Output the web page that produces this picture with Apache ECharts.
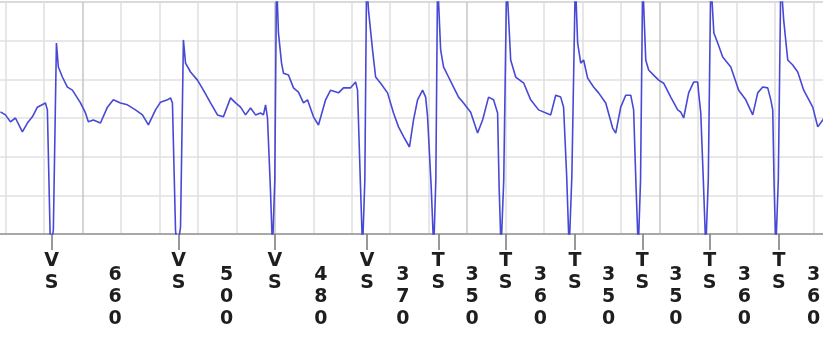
<!DOCTYPE html>
<html>
<head>
<meta charset="utf-8">
<script src="https://cdn.jsdelivr.net/npm/echarts@6/dist/echarts.min.js"></script>
<style>
html,body{margin:0;padding:0;background:#fff;overflow:hidden;width:823px;height:344px;position:relative;}
#chart{position:absolute;left:-110.3px;top:0;width:961.5px;height:344px;}
</style>
</head>
<body>
<div id="chart"></div>
<script>
// Beat markers (ms) and their annotations
const beatTimes = [840, 1500, 2000, 2480, 2850, 3200, 3560, 3910, 4260, 4620];
const beatLabels = ['VS', 'VS', 'VS', 'VS', 'TS', 'TS', 'TS', 'TS', 'TS', 'TS'];
// Interval (ms) following each beat
const rrIntervals = [660, 500, 480, 370, 350, 360, 350, 350, 360, 360];
// Signal samples: [time ms, amplitude in grid units]
const ecgSamples = [
  [574,3.16],[600,3.08],[626,2.90],[652,3.00],[688,2.64],[714,2.87],[740,3.03],[766,3.28],[808,3.39],[818,3.21],
  [834,-0.4],[849,0.1],[865,4.94],[875,4.32],[896,4.06],[922,3.80],[948,3.72],[990,3.39],[1016,3.13],[1031,2.90],
  [1057,2.95],[1094,2.87],[1130,3.28],[1161,3.47],[1198,3.39],[1234,3.34],[1276,3.21],[1312,3.08],[1343,2.82],[1380,3.21],
  [1406,3.41],[1442,3.47],[1458,3.52],[1468,3.39],[1484,0.1],[1494,-0.4],[1510,0.18],[1525,5.02],[1536,4.42],[1562,4.19],
  [1598,3.98],[1629,3.72],[1666,3.39],[1702,3.08],[1733,3.03],[1770,3.52],[1796,3.39],[1822,3.28],[1848,3.08],[1874,3.26],
  [1900,3.08],[1926,3.13],[1941,3.08],[1952,3.34],[1962,3.00],[1977,1.2],[1988,-0.4],[2000,1.4],[2009,6.6],[2019,5.20],[2035,4.42],
  [2045,4.16],[2071,4.11],[2097,3.78],[2123,3.67],[2149,3.39],[2170,3.47],[2201,3.03],[2227,2.82],[2264,3.47],[2290,3.72],
  [2331,3.65],[2357,3.78],[2394,3.78],[2420,3.93],[2430,3.72],[2445,1.3],[2456,-0.4],[2468,1.4],[2477,6.6],[2487,5.79],[2508,4.76],
  [2524,4.06],[2550,3.90],[2586,3.65],[2617,3.13],[2643,2.77],[2670,2.51],[2700,2.25],[2721,2.95],[2742,3.47],[2768,3.72],
  [2784,3.54],[2794,3.03],[2813,1.2],[2826,-0.4],[2837,1.4],[2846,6.6],[2862,4.76],[2877,4.32],[2903,4.06],[2929,3.80],[2955,3.54],
  [2981,3.39],[3018,3.15],[3054,2.61],[3080,2.95],[3111,3.54],[3137,3.47],[3158,3.13],[3166,1.2],[3176,-0.4],[3190,1.4],[3205,6.6],
  [3226,4.50],[3252,4.06],[3294,3.90],[3330,3.47],[3371,3.21],[3434,3.08],[3460,3.59],[3486,3.54],[3501,3.28],[3517,1.5],
  [3530,-0.4],[3544,1.5],[3562,6.6],[3574,4.94],[3590,4.42],[3605,4.50],[3626,4.03],[3657,3.80],[3683,3.65],[3720,3.39],
  [3756,2.74],[3772,2.61],[3798,3.28],[3824,3.59],[3850,3.59],[3865,3.21],[3877,1.3],[3889,-0.4],[3901,1.4],[3912,6.6],[3928,4.50],
  [3943,4.24],[3969,4.11],[3995,3.98],[4021,3.90],[4058,3.54],[4094,3.21],[4110,3.15],[4125,3.00],[4151,3.65],[4177,3.93],
  [4198,3.93],[4203,3.65],[4214,3.13],[4228,1.3],[4240,-0.4],[4253,1.4],[4266,6.6],[4282,5.20],[4302,4.94],[4328,4.58],[4370,4.32],
  [4411,3.72],[4448,3.47],[4484,3.08],[4510,3.65],[4536,3.80],[4562,3.78],[4578,3.47],[4588,3.21],[4595,1.3],[4604,-0.4],[4617,1.4],
  [4630,6.6],[4645,5.53],[4666,4.50],[4692,4.37],[4718,4.19],[4749,3.72],[4796,3.28],[4822,2.77],[4848,2.95],[4870,3.10]
];

const rrPositions = beatTimes.map((t, i) => t + rrIntervals[i] / 2);

const X_MIN = 0, X_MAX = 5000;
const labelFont = { fontFamily: 'DejaVu Sans', fontWeight: 'bold', fontSize: 19, lineHeight: 22, color: '#1e1e1e' };

const chart = echarts.init(document.getElementById('chart'), null, { renderer: 'canvas' });
chart.setOption({
  animation: false,
  backgroundColor: '#fff',
  grid: { left: 0, right: 0, top: 2, bottom: 110, show: true, borderColor: '#c8c8c8', borderWidth: 2, backgroundColor: 'transparent' },
  xAxis: [
    {
      type: 'value', min: X_MIN, max: X_MAX, interval: 1000, position: 'bottom',
      axisLine: { show: true, lineStyle: { color: '#a8a8a8', width: 2 } },
      axisTick: { show: false }, axisLabel: { show: false },
      splitLine: { show: true, lineStyle: { color: '#c6c6c6', width: 1.5 } },
      minorTick: { show: false, splitNumber: 5 },
      minorSplitLine: { show: true, lineStyle: { color: '#e0e0e0', width: 1.5 } }
    },
    {
      type: 'value', min: X_MIN, max: X_MAX, position: 'bottom',
      axisLine: { show: false }, splitLine: { show: false },
      axisTick: { show: true, customValues: beatTimes, length: 16, inside: false, lineStyle: { color: '#777', width: 1.5 } },
      axisLabel: Object.assign({
        show: true, customValues: beatTimes, margin: 16,
        formatter: function (v) { const i = beatTimes.indexOf(v); return i < 0 ? '' : beatLabels[i].split('').join('\n'); }
      }, labelFont)
    },
    {
      type: 'value', min: X_MIN, max: X_MAX, position: 'bottom',
      axisLine: { show: false }, splitLine: { show: false }, axisTick: { show: false },
      axisLabel: Object.assign({
        show: true, customValues: rrPositions, margin: 30,
        formatter: function (v) { const i = rrPositions.indexOf(v); return i < 0 ? '' : String(rrIntervals[i]).split('').join('\n'); }
      }, labelFont)
    }
  ],
  yAxis: {
    type: 'value', min: 0, max: 6, interval: 1,
    axisLine: { show: false }, axisTick: { show: false }, axisLabel: { show: false },
    splitLine: { show: true, lineStyle: { color: '#e0e0e0', width: 1.5 } }
  },
  series: [{
    type: 'line', xAxisIndex: 0, yAxisIndex: 0, data: ecgSamples,
    showSymbol: false, clip: true, smooth: false,
    lineStyle: { color: '#4848d6', width: 1.6 }
  }]
});
</script>
</body>
</html>
